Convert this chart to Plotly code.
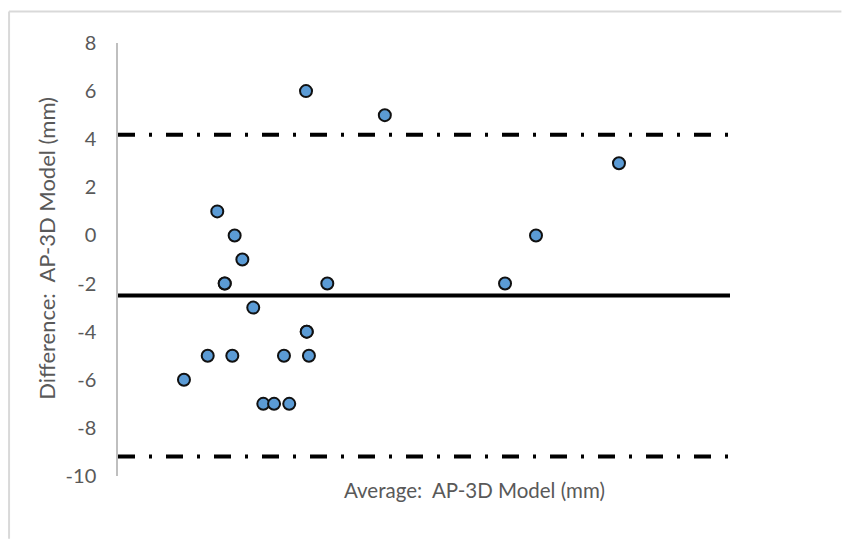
import plotly.graph_objects as go

# Bland-Altman data: mean of the two methods (mm) vs. difference (AP - 3D model, mm)
avg_mm = [5.39, 7.33, 8.11, 8.72, 8.72, 9.34, 9.53, 10.16, 11.05, 11.87, 12.75,
          13.56, 13.99, 15.36, 15.42, 15.42, 15.60, 17.10, 21.80, 31.62, 34.15, 40.93]
diff_mm = [-6, -5, 1, -2, -2, -5, 0, -1, -3, -7, -7,
           -5, -7, 6, -4, -4, -5, -2, 5, -2, 0, 3]

# Bias and 95% limits of agreement
mean_diff = -2.5
upper_loa = 4.19
lower_loa = -9.19

x_range = [0, 50]
y_range = [-10, 8]
y_ticks = [-10, -8, -6, -4, -2, 0, 2, 4, 6, 8]
y_tick_text = ["-10", "-8", "-6", "-4", "-2", "0", "2", "4", "6", "8"]

font_family = "Lato"
text_grey = "#595959"

fig = go.Figure()

# Limits of agreement (dash-dot)
for level in (upper_loa, lower_loa):
    fig.add_trace(go.Scatter(
        x=x_range, y=[level, level], mode="lines",
        line=dict(color="black", width=4, dash="17px,14px,3px,14px"),
        hoverinfo="skip", showlegend=False,
    ))

# Mean difference
fig.add_trace(go.Scatter(
    x=x_range, y=[mean_diff, mean_diff], mode="lines",
    line=dict(color="black", width=4),
    hoverinfo="skip", showlegend=False,
))

# Individual measurements
fig.add_trace(go.Scatter(
    x=avg_mm, y=diff_mm, mode="markers",
    marker=dict(symbol="circle", size=12, color="#5B9BD5",
                line=dict(color="#111111", width=2)),
    showlegend=False,
))

# Chart-area border (top and left edges)
border = dict(color="#d9d9d9", width=2)
shapes = [
    dict(type="line", xref="paper", yref="paper",
         x0=-0.178, x1=1.182, y0=1.0727, y1=1.0727, line=border, layer="below"),
    dict(type="line", xref="paper", yref="paper",
         x0=-0.178, x1=-0.178, y0=1.0727, y1=-0.145, line=border, layer="below"),
]

fig.update_layout(
    width=843, height=539,
    margin=dict(l=118, r=113, t=43, b=63),
    paper_bgcolor="white", plot_bgcolor="white",
    font=dict(family=font_family, color=text_grey, size=19),
    xaxis=dict(range=x_range, showline=False, showticklabels=False,
               ticks="", showgrid=False, zeroline=False),
    yaxis=dict(range=y_range, tickvals=y_ticks, ticktext=y_tick_text,
               showline=True, linecolor="#bfbfbf", linewidth=1.5,
               ticks="", ticklabelstandoff=16,
               showgrid=False, zeroline=False,
               tickfont=dict(family=font_family, size=20, color=text_grey)),
    shapes=shapes,
    annotations=[
        dict(text="Average:  AP-3D Model (mm)", xref="paper", yref="paper",
             x=0.582, y=-0.032, showarrow=False, xanchor="center", yanchor="middle",
             font=dict(family=font_family, size=20.5, color=text_grey)),
        dict(text="Difference:  AP-3D Model (mm)", xref="paper", yref="paper",
             x=-0.116, y=0.525, showarrow=False, textangle=-90,
             xanchor="center", yanchor="middle",
             font=dict(family=font_family, size=22, color=text_grey)),
    ],
)

fig.write_html("out.html")
